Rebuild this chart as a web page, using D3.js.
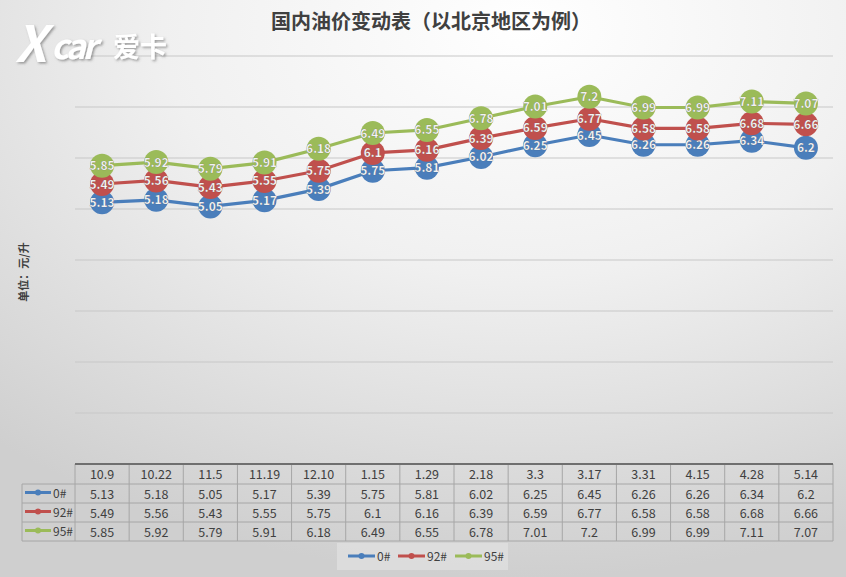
<!DOCTYPE html>
<html>
<head>
<meta charset="utf-8">
<script src="https://cdn.jsdelivr.net/npm/d3@7"></script>
<style>
  body { margin: 0; padding: 0; overflow: hidden; }
  svg { display: block; }
  text { font-family: "Noto Sans CJK SC", "Noto Sans", sans-serif; }
</style>
</head>
<body>
<svg id="chart"></svg>
<script>
var dates = ['10.9','10.22','11.5','11.19','12.10','1.15','1.29','2.18','3.3','3.17','3.31','4.15','4.28','5.14'];
var oil0  = [5.13, 5.18, 5.05, 5.17, 5.39, 5.75, 5.81, 6.02, 6.25, 6.45, 6.26, 6.26, 6.34, 6.2];
var oil92 = [5.49, 5.56, 5.43, 5.55, 5.75, 6.1, 6.16, 6.39, 6.59, 6.77, 6.58, 6.58, 6.68, 6.66];
var oil95 = [5.85, 5.92, 5.79, 5.91, 6.18, 6.49, 6.55, 6.78, 7.01, 7.2, 6.99, 6.99, 7.11, 7.07];
var seriesNames = ['0#', '92#', '95#'];
var yTicks = [0, 1, 2, 3, 4, 5, 6, 7, 8];

(function() {
var W = 846, H = 577;
var colors = ['#4a7ebb', '#c0504d', '#9bbb59'];
var series = [oil0, oil92, oil95];

var svg = d3.select('#chart').attr('width', W).attr('height', H);

// background
var defs = svg.append('defs');
var grad = defs.append('radialGradient').attr('id', 'bg')
    .attr('cx', 0.62).attr('cy', 0.05).attr('r', 0.95);
grad.append('stop').attr('offset', '0%').attr('stop-color', '#ffffff');
grad.append('stop').attr('offset', '45%').attr('stop-color', '#f0f0f0');
grad.append('stop').attr('offset', '100%').attr('stop-color', '#cfcfcf');
svg.append('rect').attr('width', W).attr('height', H).attr('fill', 'url(#bg)');

var shadow = defs.append('filter').attr('id', 'shadow')
    .attr('x', '-20%').attr('y', '-20%').attr('width', '140%').attr('height', '140%');
shadow.append('feDropShadow').attr('dx', 1.5).attr('dy', 1.5).attr('stdDeviation', 1.2)
    .attr('flood-color', '#555').attr('flood-opacity', 0.55);

var plotL = 75, plotR = 833, plotT = 56, plotB = 464;
var x = d3.scaleBand().domain(dates).range([plotL, plotR]);
var y = d3.scaleLinear().domain([0, 8]).range([plotB, plotT]);

// gridlines
svg.append('g').selectAll('line').data(yTicks.slice(1)).enter().append('line')
    .attr('x1', plotL).attr('x2', plotR)
    .attr('y1', function(d) { return y(d); }).attr('y2', function(d) { return y(d); })
    .attr('stroke', '#c8c8c8').attr('stroke-width', 1.2);

// logo
var logo = svg.append('g').attr('transform', 'translate(15,62)').attr('filter', 'url(#shadow)');
logo.append('text').attr('x', 0).attr('y', 0).text('X')
    .attr('font-family', 'DejaVu Sans').attr('font-weight', 'bold').attr('font-style', 'italic')
    .attr('font-size', 50).attr('fill', '#ffffff');
logo.append('text').attr('x', 36).attr('y', -3).text('car')
    .attr('font-family', 'DejaVu Sans').attr('font-weight', 'bold').attr('font-style', 'italic')
    .attr('font-size', 34).attr('fill', '#ffffff').attr('letter-spacing', -3);
logo.append('text').attr('x', 98).attr('y', -5).text('爱卡')
    .attr('font-size', 27).attr('font-weight', 'bold').attr('fill', '#ffffff');

// title
svg.append('text').attr('x', 431).attr('y', 29).attr('text-anchor', 'middle')
    .attr('font-size', 20).attr('font-weight', 'bold').attr('fill', '#404040')
    .text('国内油价变动表（以北京地区为例）');

// y label
svg.append('text').attr('transform', 'translate(28,272) rotate(-90)')
    .attr('text-anchor', 'middle').attr('font-size', 11).attr('font-weight', 'bold')
    .attr('fill', '#404040').text('单位：元/升');

// lines + markers
var cx = function(d, i) { return x(dates[i]) + x.bandwidth() / 2; };
var line = d3.line().x(cx).y(function(d) { return y(d); });

series.forEach(function(s, k) {
    svg.append('path').datum(s).attr('d', line)
        .attr('fill', 'none').attr('stroke', colors[k]).attr('stroke-width', 3.2)
        .attr('stroke-linejoin', 'round');
});
series.forEach(function(s, k) {
    var g = svg.append('g');
    g.selectAll('circle').data(s).enter().append('circle')
        .attr('cx', cx)
        .attr('cy', function(d) { return y(d); })
        .attr('r', 12).attr('fill', colors[k]);
    g.selectAll('text').data(s).enter().append('text')
        .attr('x', cx)
        .attr('y', function(d) { return y(d) + 4.5; })
        .attr('text-anchor', 'middle').attr('font-size', 12).attr('font-weight', 'bold')
        .attr('font-family', 'Open Sans').attr('fill', '#ffffff')
        .attr('stroke', 'rgba(60,60,60,0.35)').attr('stroke-width', 0.6)
        .text(function(d) { return d; });
});

// data table
var rowH = [plotB, 484, 503, 522, 541];
var keyLeft = 22;
var tbl = svg.append('g');
var gridColor = '#a6a6a6';
tbl.selectAll('line.h').data(rowH.slice(1)).enter().append('line')
    .attr('x1', keyLeft).attr('x2', plotR)
    .attr('y1', function(d) { return d; }).attr('y2', function(d) { return d; })
    .attr('stroke', gridColor).attr('stroke-width', 1);
var vx = dates.map(function(d) { return x(d); }).concat([plotR]);
tbl.selectAll('line.v').data(vx).enter().append('line')
    .attr('x1', function(d) { return d; }).attr('x2', function(d) { return d; })
    .attr('y1', plotB).attr('y2', rowH[4])
    .attr('stroke', gridColor).attr('stroke-width', 1);
tbl.append('line').attr('x1', keyLeft).attr('x2', keyLeft).attr('y1', rowH[1]).attr('y2', rowH[4])
    .attr('stroke', gridColor);
tbl.append('line').attr('x1', plotL).attr('x2', plotR).attr('y1', plotB).attr('y2', plotB)
    .attr('stroke', '#6f6f6f').attr('stroke-width', 2);

tbl.selectAll('text.hd').data(dates).enter().append('text')
    .attr('x', function(d) { return x(d) + x.bandwidth() / 2; })
    .attr('y', (rowH[0] + rowH[1]) / 2 + 5)
    .attr('text-anchor', 'middle').attr('font-size', 12.5).attr('font-family', 'Open Sans')
    .attr('fill', '#404040').text(function(d) { return d; });

series.forEach(function(s, k) {
    var cy = (rowH[k + 1] + rowH[k + 2]) / 2;
    tbl.selectAll('text.r' + k).data(s).enter().append('text')
        .attr('x', cx)
        .attr('y', cy + 5)
        .attr('text-anchor', 'middle').attr('font-size', 12.5).attr('font-family', 'Open Sans')
        .attr('fill', '#404040').text(function(d) { return d; });
    tbl.append('line').attr('x1', 25).attr('x2', 51).attr('y1', cy - 1).attr('y2', cy - 1)
        .attr('stroke', colors[k]).attr('stroke-width', 3);
    tbl.append('circle').attr('cx', 38).attr('cy', cy - 1).attr('r', 3).attr('fill', colors[k]);
    tbl.append('text').attr('x', 53).attr('y', cy + 4)
        .attr('font-size', 12).attr('font-family', 'Open Sans').attr('fill', '#404040')
        .text(seriesNames[k]);
});

// legend
var leg = svg.append('g');
leg.append('rect').attr('x', 337).attr('y', 543).attr('width', 171).attr('height', 27)
    .attr('fill', '#e4e4e4').attr('opacity', 0.6);
var legX = [348, 398, 455];
seriesNames.forEach(function(n, k) {
    leg.append('line').attr('x1', legX[k]).attr('x2', legX[k] + 27).attr('y1', 556).attr('y2', 556)
        .attr('stroke', colors[k]).attr('stroke-width', 3);
    leg.append('circle').attr('cx', legX[k] + 13.5).attr('cy', 556).attr('r', 3).attr('fill', colors[k]);
    leg.append('text').attr('x', legX[k] + 29).attr('y', 560.5)
        .attr('font-size', 12).attr('font-family', 'Open Sans').attr('fill', '#404040').text(n);
});
})();
</script>
</body>
</html>
